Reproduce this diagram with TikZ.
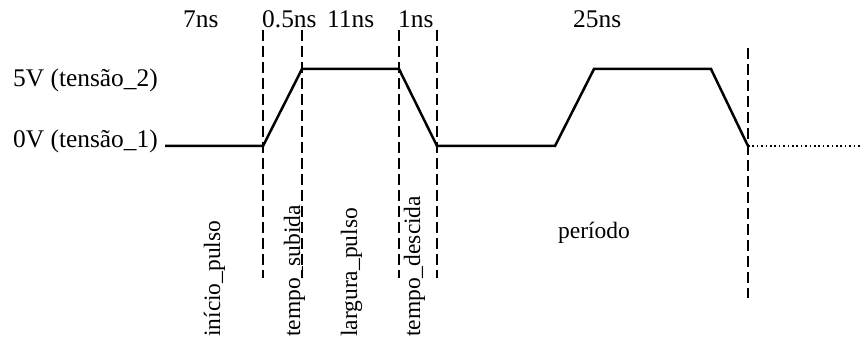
\documentclass[tikz,border=0pt]{standalone}
\usepackage{fontspec}
\setmainfont{Liberation Serif}
\begin{document}
\begin{tikzpicture}[x=1pt,y=-1pt,
  wave/.style={line width=2.5pt,line join=miter},
  guide/.style={line width=2.2pt,dash pattern=on 11pt off 5pt},
  dotline/.style={line width=1.6pt,dash pattern=on 1.6pt off 2.8pt},
  lbl/.style={inner sep=0pt,anchor=base west,font=\fontsize{25.4}{30}\selectfont},
  slbl/.style={inner sep=0pt,anchor=base west,font=\fontsize{23.5}{28}\selectfont},
  vlbl/.style={slbl,rotate=90}]
\useasboundingbox (0,0) rectangle (860,339);
% waveform points
\coordinate (p0) at (165,146);
\coordinate (p1) at (263,146);
\coordinate (p2) at (302,69);
\coordinate (p3) at (399,69);
\coordinate (p4) at (437,146);
\coordinate (p5) at (555,146);
\coordinate (p6) at (594,69);
\coordinate (p7) at (711,69);
\coordinate (p8) at (748,146);
\coordinate (pend) at (860,146);
\draw[wave] (p0) -- (p1) -- (p2) -- (p3) -- (p4) -- (p5) -- (p6) -- (p7) -- (p8);
\draw[dotline] (p8) -- (pend);
% guides
\coordinate (g1t) at (263,30); \coordinate (g1b) at (263,278);
\coordinate (g2t) at (302,30); \coordinate (g2b) at (302,278);
\coordinate (g3t) at (399,30); \coordinate (g3b) at (399,278);
\coordinate (g4t) at (437,30); \coordinate (g4b) at (437,278);
\coordinate (g5t) at (748,48); \coordinate (g5b) at (748,298);
\draw[guide] (g1t) -- (g1b);
\draw[guide] (g2t) -- (g2b);
\draw[guide] (g3t) -- (g3b);
\draw[guide] (g4t) -- (g4b);
\draw[guide] (g5t) -- (g5b);
% labels
\node[lbl] (t7) at (183,28) {7ns};
\node[lbl] (t05) at (262,28) {0.5ns};
\node[lbl] (t11) at (327,28) {11ns};
\node[lbl] (t1) at (398,28) {1ns};
\node[lbl] (t25) at (573,28) {25ns};
\node[lbl] (v5) at (13,87) {5V (tensão\_2)};
\node[lbl] (v0) at (13,148) {0V (tensão\_1)};
\node[vlbl] (ini) at (220,337) {início\_pulso};
\node[vlbl] (sub) at (300,337) {tempo\_subida};
\node[vlbl] (lar) at (357,337) {largura\_pulso};
\node[vlbl] (des) at (420,337) {tempo\_descida};
\node[slbl] (per) at (558,239) {período};
\end{tikzpicture}
\end{document}
